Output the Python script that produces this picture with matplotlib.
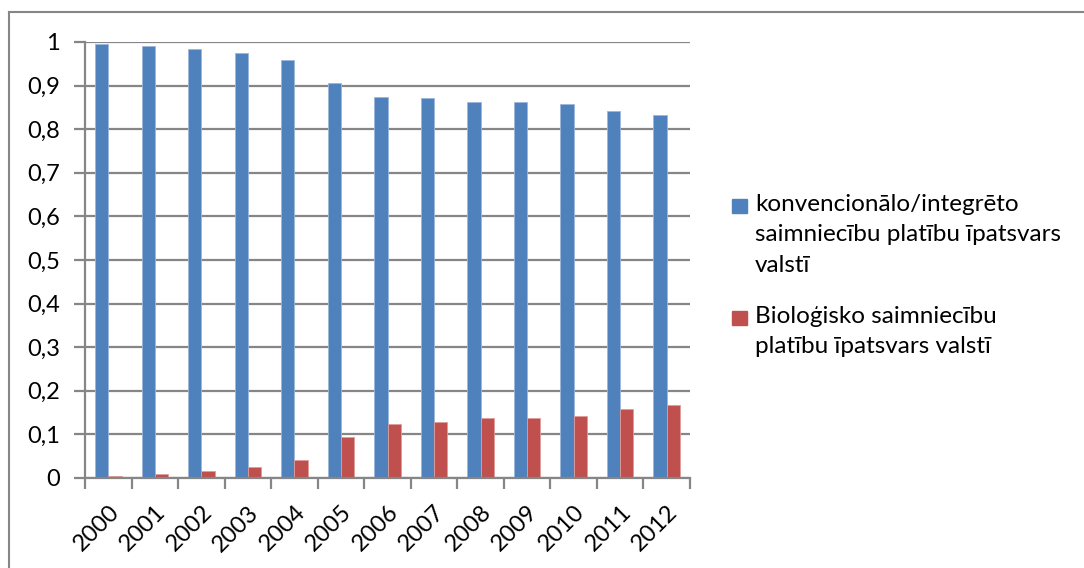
import numpy as np
import matplotlib
matplotlib.use('Agg')
import matplotlib.pyplot as plt
from matplotlib.lines import Line2D
from matplotlib.patches import Rectangle
from matplotlib.ticker import FixedLocator, FuncFormatter

years = ['2000', '2001', '2002', '2003', '2004', '2005', '2006',
         '2007', '2008', '2009', '2010', '2011', '2012']
conventional = [0.995, 0.990, 0.984, 0.975, 0.958, 0.906, 0.875,
                0.872, 0.862, 0.862, 0.858, 0.841, 0.833]
organic = [0.005, 0.010, 0.016, 0.025, 0.042, 0.094, 0.125,
           0.128, 0.138, 0.138, 0.142, 0.159, 0.167]
labels = ['konvencionālo/integrēto\nsaimniecību platību īpatsvars\nvalstī',
          'Bioloģisko saimniecību\nplatību īpatsvars valstī']
colors = ['#4F81BD', '#C0504D']

plt.rcParams['font.family'] = ['Lato', 'DejaVu Sans']

W, H = 1084, 568
fig = plt.figure(figsize=(W / 100, H / 100), dpi=100)
ax = fig.add_axes([85 / W, 1 - 478 / H, 605 / W, 436 / H])

grey = '#868686'
x = np.arange(len(years))
bw = 0.285
ax.bar(x - bw / 2, conventional, bw, color=colors[0], edgecolor='#9DB7DC',
       linewidth=0.6, zorder=3)
ax.bar(x + bw / 2, organic, bw, color=colors[1], edgecolor='#DE9D9B',
       linewidth=0.6, zorder=3)

ax.set_xlim(-0.5, len(years) - 0.5)
ax.set_ylim(0, 1)
ax.set_yticks(np.arange(0, 1.01, 0.1))
ax.yaxis.set_major_formatter(FuncFormatter(
    lambda v, p: '0' if v == 0 else ('1' if abs(v - 1) < 1e-9 else f'{v:.1f}'.replace('.', ','))))
ax.grid(axis='y', color=grey, linewidth=1.6, zorder=0)

ax.set_xticks(x)
ax.set_xticklabels(years, rotation=45, ha='right', va='top',
                   rotation_mode='anchor', fontsize=17)
ax.xaxis.set_minor_locator(FixedLocator(np.arange(-0.5, len(years), 1)))
ax.tick_params(axis='x', which='major', length=0, pad=17)
ax.tick_params(axis='x', which='minor', length=8, width=1.6, color=grey,
               direction='out')
ax.tick_params(axis='y', length=8, width=1.6, color=grey, direction='out',
               labelsize=17, pad=10)

for s in ['top', 'right']:
    ax.spines[s].set_visible(False)
for s in ['left', 'bottom']:
    ax.spines[s].set_color(grey)
    ax.spines[s].set_linewidth(1.6)
    ax.spines[s].set_zorder(4)

# legend, drawn by hand so the swatch sits on the first text line
leg_y = [206, 318]
for lab, col, yy in zip(labels, colors, leg_y):
    fig.add_artist(Rectangle((732 / W, 1 - (yy + 7) / H), 15 / W, 14 / H,
                             transform=fig.transFigure, color=col))
    fig.text(755 / W, 1 - (yy - 12) / H, lab, fontsize=17.5, va='top',
             ha='left', linespacing=1.55)

# chart border (only top and left edges are visible)
fig.add_artist(Line2D([9 / W, 9 / W], [0, 1 - 12 / H], color=grey, lw=1.5))
fig.add_artist(Line2D([9 / W, 1], [1 - 12 / H, 1 - 12 / H], color=grey, lw=1.5))

fig.savefig('out.png', dpi=100)
